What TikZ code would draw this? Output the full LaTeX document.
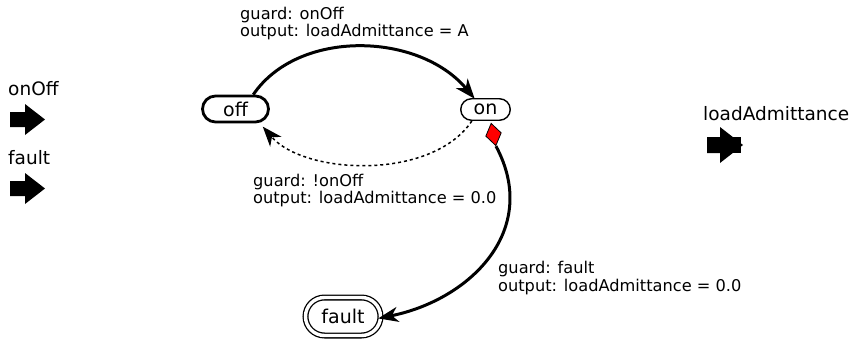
\documentclass[tikz,border=0pt]{standalone}
\usepackage{fontspec}
\setmainfont{DejaVu Sans}
\usetikzlibrary{arrows.meta,shapes.misc,shapes.geometric}
\begin{document}
\begin{tikzpicture}[x=1pt,y=-1pt,
  lbl/.style={font=\fontsize{16.2}{17.8}\selectfont, align=left, anchor=west, inner sep=0pt},
  portlbl/.style={font=\fontsize{18.5}{20}\selectfont, anchor=base west, inner sep=0pt},
  statebox/.style={draw, rounded rectangle, inner sep=0pt, font=\fontsize{19}{21}\selectfont},
  tip/.style={-{Stealth[length=20pt,width=15pt,inset=6pt]}},
  trans/.style={tip, line width=3pt},
  dottrans/.style={tip, line width=1.5pt, dash pattern=on 3pt off 3pt},
  port/.style={fill=black}
]
\fill[white] (0,0) rectangle (855,340);
\useasboundingbox (0,0) rectangle (855,340);

% ports
\node[portlbl] (lOnOff) at (8,95) {onOff};
\fill[port] (10,112) -- (25,112) -- (25,104) -- (45,119.5) -- (25,135) -- (25,127) -- (10,127) -- cycle;
\node[portlbl] (lFault) at (8,164) {fault};
\fill[port] (10,181) -- (25,181) -- (25,173) -- (45,188.5) -- (25,204) -- (25,196) -- (10,196) -- cycle;
\node[portlbl] (lLoad) at (703,120) {loadAdmittance};
\fill[port] (707,137) -- (720,137) -- (720,127) -- (743,145) -- (720,163) -- (720,153) -- (707,153) -- cycle;
\fill[port] (720,137) rectangle (741,153);

% states
\node[statebox, line width=2.8pt, minimum width=66pt, minimum height=26pt] (off) at (235.5,109) {off};
\node[statebox, line width=1.4pt, minimum width=49.5pt, minimum height=21.5pt] (on) at (485.5,109.5) {on};
\node[statebox, line width=1.3pt, double, double distance=3.4pt, minimum width=75pt, minimum height=38pt] (fault) at (343,316.5) {fault};

% initial/preemptive marker
\node[diamond, draw=black, fill=red, line width=0.8pt, inner sep=0pt, minimum width=16pt, minimum height=23pt, rotate=12] (mark) at (493.5,134.5) {};

% transitions
\draw[trans, shorten >=-1pt] (off.39) .. controls +(45,-66) and +(-55,-66) .. (on.135);
\draw[dottrans, shorten >=5pt] (on.-140) .. controls +(-40,60) and +(45,52) .. (off.-30);
\draw[trans, shorten >=-3pt] (mark.south) .. controls +(45,84) and +(89,-18) .. (fault.-2);

% labels
\node[lbl] (t1) at (240,23.5) {guard: onOff\\output: loadAdmittance = A};
\node[lbl] (t2) at (253,190.5) {guard: !onOff\\output: loadAdmittance = 0.0};
\node[lbl] (t3) at (498,278) {guard: fault\\output: loadAdmittance = 0.0};
\end{tikzpicture}
\end{document}
